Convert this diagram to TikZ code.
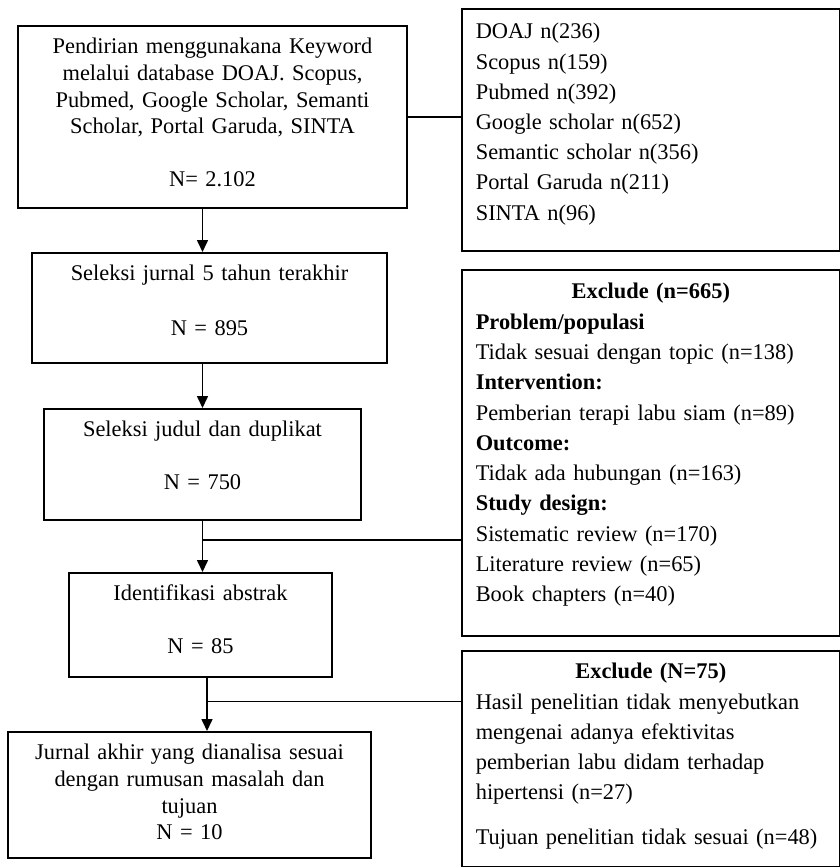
\documentclass[tikz,border=0pt]{standalone}
\usepackage{fontspec}
\setmainfont{Liberation Serif}
\usetikzlibrary{arrows.meta}
\usetikzlibrary{calc}
\tikzstyle{stepbox}=[draw,line width=0.8pt,align=center,anchor=north,inner xsep=0pt,inner ysep=0pt,text height=14pt,font=\fontsize{11.2}{13.35}\selectfont]
\tikzstyle{notebox}=[draw,line width=0.8pt,align=left,anchor=north west,inner xsep=7pt,inner ysep=0pt,text width=175pt,font=\fontsize{11.2}{15.1}\selectfont]
\tikzstyle{flowedge} = [draw,line width=0.8pt,-{Triangle[length=6pt,width=5.5pt]}]
\tikzstyle{sideedge} = [draw,line width=0.8pt]

\begin{document}
\begin{tikzpicture}[x=0.5pt,y=-0.5pt]
    \useasboundingbox (0,0) rectangle (840,867);

    % main flow, left column
    \node[stepbox,text width=194.5pt,text depth=77pt] (box1) at (212.5,25)
        {Pendirian menggunakana Keyword\\ melalui database DOAJ. Scopus,\\ Pubmed, Google Scholar, Semanti\\ Scholar, Portal Garuda, SINTA\\[13pt] N= 2.102};
    \node[stepbox,text width=177.5pt,text depth=41pt] (box2) at (209.5,252)
        {Seleksi jurnal 5 tahun terakhir\\[14pt] N = 895};
    \node[stepbox,text width=158.5pt,text depth=41.5pt] (box3) at (202.5,408)
        {Seleksi judul dan duplikat\\[13pt] N = 750};
    \node[stepbox,text width=131.5pt,text depth=38pt] (box4) at (200.5,572)
        {Identifikasi abstrak\\[13pt] N = 85};
    \node[stepbox,text width=181.5pt,text depth=49pt] (box5) at (189.5,731)
        {Jurnal akhir yang dianalisa sesuai\\ dengan rumusan masalah dan\\ tujuan\\ N = 10};

    % side boxes, right column
    \node[notebox,text height=15pt,text depth=106pt] (src) at (461,8)
        {DOAJ n(236)\\ Scopus n(159)\\ Pubmed n(392)\\ Google scholar n(652)\\ Semantic scholar n(356)\\ Portal Garuda n(211)\\ SINTA n(96)};
    \node[notebox,text height=14.5pt,text depth=168.5pt,font=\fontsize{11.2}{15.15}\selectfont] (excl1) at (461,269)
        {\makebox[\linewidth]{\textbf{Exclude (n=665)}}\\
         \textbf{Problem/populasi}\\
         Tidak sesuai dengan topic (n=138)\\
         \textbf{Intervention:}\\
         Pemberian terapi labu siam (n=89)\\
         \textbf{Outcome:}\\
         Tidak ada hubungan (n=163)\\
         \textbf{Study design:}\\
         Sistematic review (n=170)\\
         Literature review (n=65)\\
         Book chapters (n=40)};
    \node[notebox,text height=14pt,text depth=94pt] (excl2) at (461,650)
        {\makebox[\linewidth]{\textbf{Exclude (N=75)}}\\
         Hasil penelitian tidak menyebutkan\\
         mengenai adanya efektivitas\\
         pemberian labu didam terhadap\\
         hipertensi (n=27)\\[7.4pt]
         Tujuan penelitian tidak sesuai (n=48)};

    % connectors
    \path[sideedge] (box1.east) -- (box1.east -| src.west);
    \path[flowedge] (box1.south -| box3.north) -- (box2.north -| box3.north);
    \path[flowedge] (box2.south -| box3.north) -- (box3.north);
    \path[flowedge] (box3.south) -- (box3.south |- box4.north);
    \coordinate (join1) at ($(box3.south)!0.38!(box3.south |- box4.north)$);
    \path[sideedge] (join1) -- (join1 -| excl1.west);
    \coordinate (out4) at ($(box4.south)+(6.5,0)$);
    \path[flowedge] (out4) -- (out4 |- box5.north);
    \coordinate (join2) at ($(out4)!0.45!(out4 |- box5.north)$);
    \path[sideedge] (join2) -- (join2 -| excl2.west);

\end{tikzpicture}
\end{document}
